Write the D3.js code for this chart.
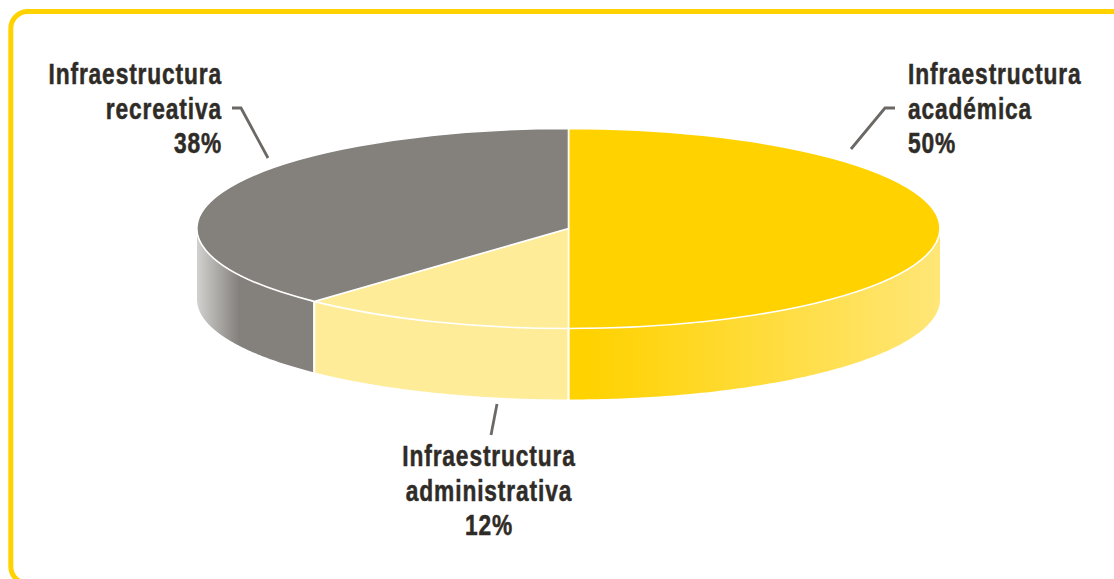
<!DOCTYPE html>
<html>
<head>
<meta charset="utf-8">
<script src="https://cdnjs.cloudflare.com/ajax/libs/d3/7.8.5/d3.min.js"></script>
<style>
  html, body { margin: 0; padding: 0; background: #fff; overflow: hidden; }
  text { font-family: "Liberation Sans", sans-serif; font-weight: 700; font-size: 29px; fill: #2f2c28; stroke: #2f2c28; stroke-width: 0.5px; letter-spacing: 1.1px; }
</style>
</head>
<body>
<div id="viz"></div>
<script>
const categories = ["Infraestructura académica", "Infraestructura administrativa", "Infraestructura recreativa"];
const values = [50, 12, 38];
const colors = ["#ffd200", "#ffec99", "#84807c"];
const labelLines = [
    ["Infraestructura", "académica"],
    ["Infraestructura", "administrativa"],
    ["Infraestructura", "recreativa"]
];
const labelX = [908, 489, 222];
const labelY = [84, 466, 84];
const labelAnchor = ["start", "middle", "end"];
const leaderLines = [
    [[851, 149], [885, 108], [895, 108]],
    [[497, 404], [491, 435]],
    [[268, 158], [241, 108], [232, 108]]
];

const width = 1114, height = 579;
const cx = 568.5, cy = 228.5, rx = 371.5, ry = 100, depth = 71;
const textSqueeze = 0.785;

const svg = d3.select("#viz").append("svg")
    .attr("width", width)
    .attr("height", height)
    .style("display", "block");

// frame runs off the right and bottom of the page
svg.append("rect")
    .attr("x", 10.8).attr("y", 11.5)
    .attr("width", 1140).attr("height", 572)
    .attr("rx", 17)
    .attr("fill", "none")
    .attr("stroke", "#ffd200")
    .attr("stroke-width", 5);

const defs = svg.append("defs");

function addGradient(id, x1, x2, stops) {
    const g = defs.append("linearGradient")
        .attr("id", id)
        .attr("gradientUnits", "userSpaceOnUse")
        .attr("x1", x1).attr("x2", x2)
        .attr("y1", 0).attr("y2", 0);
    stops.forEach(s => g.append("stop").attr("offset", s[0]).attr("stop-color", s[1]));
    return "url(#" + id + ")";
}

const wallFills = [
    addGradient("wall0", cx + 20, cx + rx, [[0, "#ffd200"], [1, "#ffe677"]]),
    colors[1],
    addGradient("wall2", cx - rx, cx - rx + 42, [[0, "#d2d1cf"], [1, colors[2]]])
];

const pie = d3.pie().sort(null).value(d => d);
const arcs = pie(values);

const px = a => cx + rx * Math.sin(a);
const py = a => cy - ry * Math.cos(a);

// side wall of a slice, only the front half of the disc shows
function wallPoints(d) {
    const a0 = Math.max(d.startAngle, Math.PI / 2);
    const a1 = Math.min(d.endAngle, Math.PI * 1.5);
    const n = 120, top = [], bottom = [];
    for (let i = 0; i <= n; i++) {
        const a = a0 + (a1 - a0) * i / n;
        top.push([px(a), py(a)]);
        bottom.unshift([px(a), py(a) + depth]);
    }
    return d3.line()(top.concat(bottom)) + "Z";
}

svg.append("g").selectAll("path")
    .data(arcs)
    .enter()
    .append("path")
    .attr("d", wallPoints)
    .attr("fill", (d, i) => wallFills[i]);

// wall separators
svg.append("g").selectAll("line")
    .data([arcs[0].endAngle, arcs[1].endAngle])
    .enter()
    .append("line")
    .attr("x1", px).attr("x2", px)
    .attr("y1", py).attr("y2", a => py(a) + depth + 1)
    .attr("stroke", "#fff")
    .attr("stroke-width", 2.2);

// top face: unit arc scaled to the ellipse
const arc = d3.arc().innerRadius(0).outerRadius(1);
svg.append("g")
    .attr("transform", `translate(${cx},${cy}) scale(${rx},${ry})`)
    .selectAll("path")
    .data(arcs)
    .enter()
    .append("path")
    .attr("d", arc)
    .attr("fill", (d, i) => colors[i])
    .attr("stroke", "#fff")
    .attr("stroke-width", 1.6)
    .attr("vector-effect", "non-scaling-stroke");

// leaders
svg.append("g").selectAll("path")
    .data(leaderLines)
    .enter()
    .append("path")
    .attr("d", d3.line())
    .attr("fill", "none")
    .attr("stroke", "#6b6865")
    .attr("stroke-width", 2.8);

// labels, the last line is the share
labelLines.forEach((lines, i) => {
    const t = svg.append("text")
        .attr("text-anchor", labelAnchor[i])
        .attr("aria-label", categories[i])
        .attr("transform", `translate(${labelX[i]},${labelY[i]}) scale(${textSqueeze},1)`);
    lines.concat(values[i] + "%").forEach((s, j) => {
        t.append("tspan")
            .attr("x", 0)
            .attr("y", j * 34.6)
            .text(s);
    });
});
</script>
</body>
</html>
